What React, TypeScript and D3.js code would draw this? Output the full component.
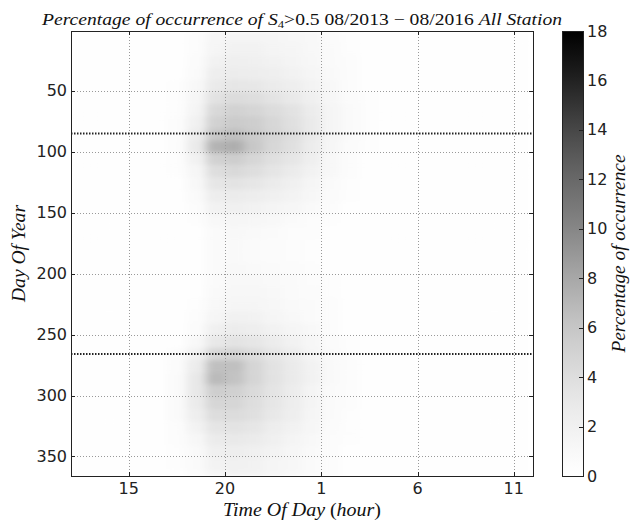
import React from "react";
import * as d3 from "d3";

// occurrence of S4 > 0.5, 10-day rows x 1-hour columns (local time 12h .. 36h)
const dayStarts = [
  1, 11, 21, 31, 41, 51, 61, 71, 81, 91, 101, 111, 121, 131, 141, 151, 161, 171, 181,
  191, 201, 211, 221, 231, 241, 251, 261, 271, 281, 291, 301, 311, 321, 331, 341, 351, 361,
];
const hourStarts = [
  12, 13, 14, 15, 16, 17, 18, 19, 20, 21, 22, 23, 24, 25, 26, 27, 28, 29, 30, 31, 32, 33, 34, 35,
];

const occurrence = [
  [0.1, 0.1, 0.1, 0.1, 0.1, 0.2, 0.4, 1.3, 1.6, 1.6, 1.4, 1.2, 1.0, 0.6, 0.3, 0.2, 0.1, 0.1, 0.1, 0.1, 0.1, 0.1, 0.1, 0.1],
  [0.1, 0.1, 0.1, 0.1, 0.1, 0.2, 0.5, 1.5, 1.8, 1.8, 1.6, 1.4, 1.1, 0.7, 0.3, 0.2, 0.1, 0.1, 0.1, 0.1, 0.1, 0.1, 0.1, 0.1],
  [0.1, 0.1, 0.1, 0.1, 0.2, 0.2, 0.6, 1.9, 2.2, 2.1, 1.9, 1.6, 1.2, 0.8, 0.4, 0.2, 0.1, 0.1, 0.1, 0.1, 0.1, 0.1, 0.1, 0.1],
  [0.1, 0.1, 0.1, 0.1, 0.2, 0.2, 0.8, 2.3, 2.6, 2.5, 2.2, 1.9, 1.4, 0.9, 0.4, 0.2, 0.1, 0.1, 0.1, 0.1, 0.1, 0.1, 0.1, 0.1],
  [0.1, 0.1, 0.1, 0.1, 0.2, 0.3, 1.0, 2.8, 3.2, 3.1, 2.7, 2.3, 1.7, 1.0, 0.5, 0.2, 0.1, 0.1, 0.1, 0.1, 0.1, 0.1, 0.1, 0.1],
  [0.1, 0.1, 0.1, 0.1, 0.2, 0.3, 1.3, 3.6, 4.2, 4.0, 3.5, 2.9, 2.1, 1.2, 0.6, 0.3, 0.2, 0.1, 0.1, 0.1, 0.1, 0.1, 0.1, 0.1],
  [0.1, 0.1, 0.1, 0.2, 0.2, 0.3, 1.6, 4.4, 5.0, 4.8, 4.2, 3.6, 2.6, 1.5, 0.7, 0.3, 0.2, 0.1, 0.1, 0.1, 0.1, 0.1, 0.1, 0.1],
  [0.1, 0.1, 0.1, 0.2, 0.2, 0.4, 2.0, 5.0, 5.6, 5.4, 4.6, 3.8, 2.8, 1.5, 0.7, 0.3, 0.2, 0.1, 0.1, 0.1, 0.1, 0.1, 0.1, 0.1],
  [0.1, 0.1, 0.1, 0.2, 0.2, 0.4, 2.4, 5.8, 6.4, 5.6, 4.8, 4.0, 2.8, 1.5, 0.7, 0.3, 0.2, 0.1, 0.1, 0.1, 0.1, 0.1, 0.1, 0.1],
  [0.1, 0.1, 0.1, 0.2, 0.2, 0.4, 2.8, 7.2, 7.6, 5.8, 4.6, 3.8, 2.6, 1.3, 0.6, 0.3, 0.2, 0.1, 0.1, 0.1, 0.1, 0.1, 0.1, 0.1],
  [0.1, 0.1, 0.1, 0.1, 0.2, 0.3, 1.8, 5.0, 5.4, 4.6, 3.8, 3.2, 2.2, 1.1, 0.5, 0.2, 0.1, 0.1, 0.1, 0.1, 0.1, 0.1, 0.1, 0.1],
  [0.1, 0.1, 0.1, 0.1, 0.2, 0.3, 1.3, 4.0, 4.4, 4.0, 3.3, 2.7, 1.9, 1.0, 0.4, 0.2, 0.1, 0.1, 0.1, 0.1, 0.1, 0.1, 0.1, 0.1],
  [0.1, 0.1, 0.1, 0.1, 0.1, 0.2, 1.0, 3.2, 3.5, 3.2, 2.7, 2.1, 1.5, 0.8, 0.3, 0.2, 0.1, 0.1, 0.1, 0.1, 0.1, 0.1, 0.1, 0.1],
  [0.1, 0.1, 0.1, 0.1, 0.1, 0.2, 0.7, 2.4, 2.7, 2.5, 2.1, 1.7, 1.2, 0.6, 0.3, 0.2, 0.1, 0.1, 0.1, 0.1, 0.1, 0.1, 0.1, 0.1],
  [0.1, 0.1, 0.1, 0.1, 0.1, 0.2, 0.5, 1.8, 2.1, 1.9, 1.6, 1.3, 0.9, 0.4, 0.2, 0.1, 0.1, 0.1, 0.1, 0.1, 0.1, 0.1, 0.1, 0.1],
  [0.1, 0.1, 0.1, 0.1, 0.1, 0.1, 0.3, 1.1, 1.3, 1.2, 1.0, 0.8, 0.5, 0.3, 0.2, 0.1, 0.1, 0.1, 0.1, 0.1, 0.1, 0.1, 0.1, 0.1],
  [0.1, 0.1, 0.1, 0.1, 0.1, 0.1, 0.2, 0.8, 1.0, 0.9, 0.7, 0.5, 0.4, 0.2, 0.1, 0.1, 0.1, 0.1, 0.1, 0.1, 0.1, 0.1, 0.1, 0.1],
  [0.1, 0.1, 0.1, 0.1, 0.1, 0.1, 0.2, 0.7, 0.9, 0.8, 0.6, 0.5, 0.3, 0.2, 0.1, 0.1, 0.1, 0.1, 0.1, 0.1, 0.1, 0.1, 0.1, 0.1],
  [0.1, 0.1, 0.1, 0.1, 0.1, 0.1, 0.2, 0.7, 0.9, 0.8, 0.6, 0.5, 0.3, 0.2, 0.1, 0.1, 0.1, 0.1, 0.1, 0.1, 0.1, 0.1, 0.1, 0.1],
  [0.1, 0.1, 0.1, 0.1, 0.1, 0.1, 0.2, 0.8, 1.0, 0.9, 0.7, 0.6, 0.4, 0.2, 0.1, 0.1, 0.1, 0.1, 0.1, 0.1, 0.1, 0.1, 0.1, 0.1],
  [0.1, 0.1, 0.1, 0.1, 0.1, 0.1, 0.2, 0.8, 1.1, 1.1, 0.9, 0.7, 0.5, 0.3, 0.1, 0.1, 0.1, 0.1, 0.1, 0.1, 0.1, 0.1, 0.1, 0.1],
  [0.1, 0.1, 0.1, 0.1, 0.1, 0.1, 0.2, 0.9, 1.2, 1.2, 1.0, 0.8, 0.6, 0.3, 0.2, 0.1, 0.1, 0.1, 0.1, 0.1, 0.1, 0.1, 0.1, 0.1],
  [0.1, 0.1, 0.1, 0.1, 0.1, 0.1, 0.3, 1.1, 1.4, 1.4, 1.2, 0.9, 0.7, 0.4, 0.2, 0.1, 0.1, 0.1, 0.1, 0.1, 0.1, 0.1, 0.1, 0.1],
  [0.1, 0.1, 0.1, 0.1, 0.1, 0.1, 0.4, 1.5, 2.0, 1.8, 1.5, 1.1, 0.8, 0.4, 0.2, 0.1, 0.1, 0.1, 0.1, 0.1, 0.1, 0.1, 0.1, 0.1],
  [0.1, 0.1, 0.1, 0.1, 0.1, 0.2, 0.6, 2.1, 2.6, 2.3, 1.9, 1.4, 1.0, 0.5, 0.2, 0.1, 0.1, 0.1, 0.1, 0.1, 0.1, 0.1, 0.1, 0.1],
  [0.1, 0.1, 0.1, 0.1, 0.1, 0.2, 1.0, 3.0, 3.5, 3.2, 2.6, 1.9, 1.3, 0.6, 0.3, 0.1, 0.1, 0.1, 0.1, 0.1, 0.1, 0.1, 0.1, 0.1],
  [0.1, 0.1, 0.1, 0.1, 0.2, 0.4, 1.8, 4.6, 4.9, 4.1, 3.2, 2.4, 1.5, 0.7, 0.3, 0.2, 0.1, 0.1, 0.1, 0.1, 0.1, 0.1, 0.1, 0.1],
  [0.1, 0.1, 0.1, 0.1, 0.2, 0.6, 2.6, 6.4, 6.4, 4.8, 3.6, 2.8, 1.8, 0.9, 0.4, 0.2, 0.1, 0.1, 0.1, 0.1, 0.1, 0.1, 0.1, 0.1],
  [0.1, 0.1, 0.1, 0.1, 0.2, 0.7, 3.0, 6.8, 6.2, 4.8, 3.6, 2.8, 1.8, 0.9, 0.4, 0.2, 0.1, 0.1, 0.1, 0.1, 0.1, 0.1, 0.1, 0.1],
  [0.1, 0.1, 0.1, 0.1, 0.2, 0.8, 3.0, 5.4, 5.2, 4.3, 3.4, 2.6, 1.6, 0.8, 0.4, 0.2, 0.1, 0.1, 0.1, 0.1, 0.1, 0.1, 0.1, 0.1],
  [0.1, 0.1, 0.1, 0.1, 0.2, 0.8, 2.7, 4.7, 4.7, 4.0, 3.2, 2.5, 1.6, 0.8, 0.4, 0.2, 0.1, 0.1, 0.1, 0.1, 0.1, 0.1, 0.1, 0.1],
  [0.1, 0.1, 0.1, 0.1, 0.2, 0.7, 2.3, 4.1, 4.2, 3.8, 3.0, 2.3, 1.5, 0.7, 0.3, 0.2, 0.1, 0.1, 0.1, 0.1, 0.1, 0.1, 0.1, 0.1],
  [0.1, 0.1, 0.1, 0.1, 0.2, 0.5, 1.7, 3.3, 3.5, 3.2, 2.5, 1.9, 1.3, 0.6, 0.3, 0.2, 0.1, 0.1, 0.1, 0.1, 0.1, 0.1, 0.1, 0.1],
  [0.1, 0.1, 0.1, 0.1, 0.1, 0.4, 1.2, 2.7, 2.9, 2.7, 2.1, 1.6, 1.0, 0.5, 0.3, 0.1, 0.1, 0.1, 0.1, 0.1, 0.1, 0.1, 0.1, 0.1],
  [0.1, 0.1, 0.1, 0.1, 0.1, 0.3, 0.9, 2.1, 2.3, 2.1, 1.7, 1.3, 0.9, 0.5, 0.2, 0.1, 0.1, 0.1, 0.1, 0.1, 0.1, 0.1, 0.1, 0.1],
  [0.1, 0.1, 0.1, 0.1, 0.1, 0.3, 0.7, 1.7, 2.0, 1.8, 1.5, 1.2, 0.8, 0.4, 0.2, 0.1, 0.1, 0.1, 0.1, 0.1, 0.1, 0.1, 0.1, 0.1],
  [0.1, 0.1, 0.1, 0.1, 0.1, 0.2, 0.6, 1.5, 1.8, 1.7, 1.4, 1.1, 0.8, 0.4, 0.2, 0.1, 0.1, 0.1, 0.1, 0.1, 0.1, 0.1, 0.1, 0.1],
];

const xTicks = [15, 20, 25, 30, 35];
const yTicks = [50, 100, 150, 200, 250, 300, 350];
const cbTicks = [0, 2, 4, 6, 8, 10, 12, 14, 16, 18];
const equinoxDays = [85, 266];

const serif = "'Liberation Serif', 'Times New Roman', serif";
const sans = "'DejaVu Sans', sans-serif";

export default function App() {
  const left = 71, right = 533, top = 31, bottom = 476;
  const cbX0 = 562, cbX1 = 583;

  const x = d3.scaleLinear().domain([12, 36]).range([left, right]);
  const y = d3.scaleLinear().domain([1, 366]).range([top, bottom]);
  const c = d3.scaleLinear().domain([0, 18]).range([bottom, top]);
  const color = (v: number) => d3.interpolateGreys(Math.min(v / 18, 1));

  const cells: { x: number; y: number; w: number; h: number; v: number }[] = [];
  occurrence.forEach((row, i) => {
    const d0 = dayStarts[i];
    const d1 = i + 1 < dayStarts.length ? dayStarts[i + 1] : 366;
    row.forEach((v, j) => {
      const h0 = hourStarts[j];
      cells.push({ x: x(h0), y: y(d0), w: x(h0 + 1) - x(h0), h: y(d1) - y(d0), v });
    });
  });

  const stops = d3.range(0, 1.0001, 0.05);

  return (
    <svg width={632} height={523} style={{ position: "absolute", left: 0, top: 0, background: "#fff" }}>
      <defs>
        <clipPath id="plotClip">
          <rect x={left} y={top} width={right - left} height={bottom - top} />
        </clipPath>
        <filter id="smear" x="-5%" y="-5%" width="110%" height="110%">
          <feGaussianBlur stdDeviation="5 2" />
        </filter>
        <linearGradient id="cbGrad" x1="0" y1="1" x2="0" y2="0">
          {stops.map((t) => (
            <stop key={t} offset={t} stopColor={d3.interpolateGreys(t)} />
          ))}
        </linearGradient>
      </defs>

      <g clipPath="url(#plotClip)">
        <g filter="url(#smear)">
          {cells.map((d, i) => (
            <rect key={i} x={d.x} y={d.y} width={d.w + 0.5} height={d.h + 0.5} fill={color(d.v)} />
          ))}
        </g>
      </g>

      {/* grid */}
      <g stroke="#999" strokeWidth={1} strokeDasharray="1,2">
        {xTicks.map((t) => (
          <line key={t} x1={Math.round(x(t)) + 0.5} x2={Math.round(x(t)) + 0.5} y1={top} y2={bottom} />
        ))}
        {yTicks.map((t) => (
          <line key={t} x1={left} x2={right} y1={Math.round(y(t)) + 0.5} y2={Math.round(y(t)) + 0.5} />
        ))}
      </g>

      {/* equinox markers */}
      <g stroke="#222" strokeWidth={2} strokeDasharray="1.5,1.5">
        {equinoxDays.map((d) => (
          <line key={d} x1={left} x2={right} y1={y(d)} y2={y(d)} />
        ))}
      </g>

      {/* frame */}
      <rect x={left + 0.5} y={top + 0.5} width={right - left} height={bottom - top} fill="none" stroke="#222" strokeWidth={1} />

      {/* ticks */}
      <g stroke="#222" strokeWidth={1}>
        {xTicks.map((t) => {
          const px = Math.round(x(t)) + 0.5;
          return (
            <g key={t}>
              <line x1={px} x2={px} y1={bottom} y2={bottom - 4} />
              <line x1={px} x2={px} y1={top} y2={top + 4} />
            </g>
          );
        })}
        {yTicks.map((t) => {
          const py = Math.round(y(t)) + 0.5;
          return (
            <g key={t}>
              <line x1={left} x2={left + 4} y1={py} y2={py} />
              <line x1={right} x2={right - 4} y1={py} y2={py} />
            </g>
          );
        })}
      </g>

      {/* tick labels */}
      <g fontFamily={sans} fontSize={16} fill="#222">
        {xTicks.map((t) => (
          <text key={t} x={x(t)} y={494} textAnchor="middle">
            {t > 24 ? t - 24 : t}
          </text>
        ))}
        {yTicks.map((t) => (
          <text key={t} x={left - 4} y={y(t)} textAnchor="end" dominantBaseline="central">
            {t}
          </text>
        ))}
      </g>

      {/* title */}
      <text x={(left + right) / 2} y={25} textAnchor="middle" fontFamily={serif} fontSize={17} fill="#111" textLength={520} lengthAdjust="spacingAndGlyphs">
        <tspan fontStyle="italic">Percentage of occurrence of S</tspan>
        <tspan fontSize={11} dy={3}>4</tspan>
        <tspan dy={-3}>{">0.5 08/2013 \u2212 08/2016 "}</tspan>
        <tspan fontStyle="italic">All Station</tspan>
      </text>

      {/* axis labels */}
      <text x={(left + right) / 2} y={516} textAnchor="middle" fontFamily={serif} fontSize={18} fill="#111" textLength={158} lengthAdjust="spacingAndGlyphs">
        <tspan fontStyle="italic">Time Of Day </tspan>
        <tspan>(</tspan>
        <tspan fontStyle="italic">hour</tspan>
        <tspan>)</tspan>
      </text>
      <text transform={`translate(25, ${(top + bottom) / 2}) rotate(-90)`} textAnchor="middle" fontFamily={serif} fontSize={18} fontStyle="italic" fill="#111" textLength={97} lengthAdjust="spacingAndGlyphs">
        Day Of Year
      </text>

      {/* colorbar */}
      <rect x={cbX0} y={top} width={cbX1 - cbX0} height={bottom - top} fill="url(#cbGrad)" />
      <rect x={cbX0 + 0.5} y={top + 0.5} width={cbX1 - cbX0} height={bottom - top} fill="none" stroke="#222" strokeWidth={1} />
      <g stroke="#222" strokeWidth={1}>
        {cbTicks.map((t) => (
          <line key={t} x1={cbX1} x2={cbX1 - 4} y1={Math.round(c(t)) + 0.5} y2={Math.round(c(t)) + 0.5} />
        ))}
      </g>
      <g fontFamily={sans} fontSize={16} fill="#222">
        {cbTicks.map((t) => (
          <text key={t} x={cbX1 + 4} y={c(t)} dominantBaseline="central">
            {t}
          </text>
        ))}
      </g>
      <text transform={`translate(625, ${(top + bottom) / 2}) rotate(-90)`} textAnchor="middle" fontFamily={serif} fontSize={18} fontStyle="italic" fill="#111" textLength={198} lengthAdjust="spacingAndGlyphs">
        Percentage of occurrence
      </text>
    </svg>
  );
}
